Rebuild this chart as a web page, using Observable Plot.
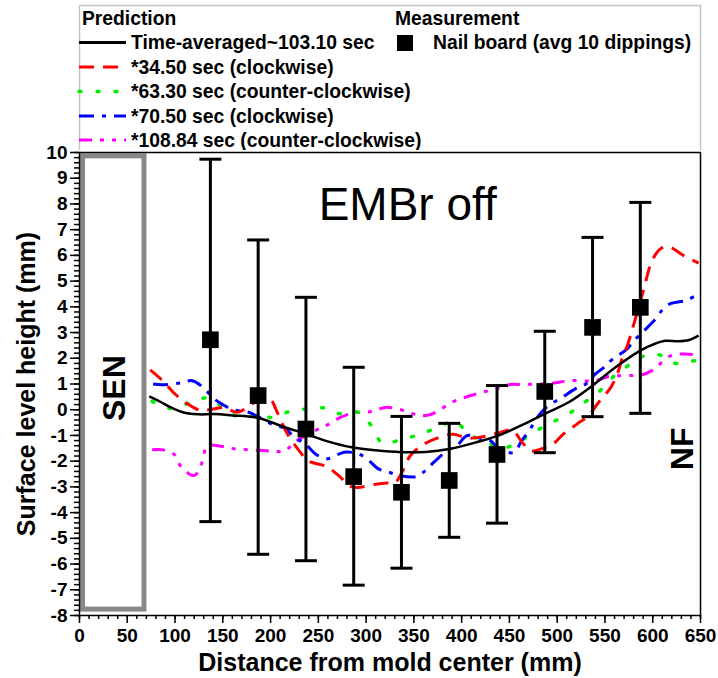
<!DOCTYPE html>
<html>
<head>
<meta charset="utf-8">
<script src="https://cdn.jsdelivr.net/npm/d3@7"></script>
<script src="https://cdn.jsdelivr.net/npm/@observablehq/plot@0.6"></script>
<style>
  html, body { margin: 0; padding: 0; background: white; }
  #chart { width: 718px; }
</style>
</head>
<body>
<div id="chart"></div>
<script>
// ---------- DATA ----------
const xTicks = [0, 50, 100, 150, 200, 250, 300, 350, 400, 450, 500, 550, 600, 650];
const yTicks = [-8, -7, -6, -5, -4, -3, -2, -1, 0, 1, 2, 3, 4, 5, 6, 7, 8, 9, 10];

// Measurement: nail board (avg 10 dippings)
const measX = [137, 187, 237, 287, 337, 387, 437, 487, 537, 587];
const measY = [2.72, 0.55, -0.75, -2.6, -3.21, -2.75, -1.74, 0.71, 3.2, 3.98];
const measTop = [9.74, 6.6, 4.37, 1.65, -0.26, -0.53, 0.94, 3.05, 6.7, 8.06];
const measBot = [-4.35, -5.62, -5.87, -6.82, -6.16, -4.96, -4.41, -1.67, -0.27, -0.14];

// Prediction: time-averaged
const avgX = [73, 85, 95, 110, 125, 140, 160, 187, 215, 237, 257, 285, 310, 337, 362, 387, 415, 439, 463, 488, 512, 537, 561, 587, 600, 613, 627, 638, 648];
const avgY = [0.52, 0.3, 0.1, -0.12, -0.18, -0.17, -0.22, -0.32, -0.68, -0.94, -1.2, -1.46, -1.58, -1.65, -1.64, -1.53, -1.27, -1.0, -0.6, -0.14, 0.29, 0.94, 1.65, 2.3, 2.53, 2.68, 2.66, 2.71, 2.88];

// *34.50 sec (clockwise)
const redX = [74, 87, 100, 110, 127, 140, 152, 165, 180, 192, 200, 207, 217, 230, 240, 258, 271, 285, 296, 310, 322, 330, 338, 346, 360, 376, 391, 406, 422, 439, 453, 463, 472, 481, 496, 507, 521, 533, 543, 556, 563, 568, 574, 580, 590, 600, 610, 618, 632, 648];
const redY = [1.55, 1.13, 0.61, 0.3, -0.03, 0.03, 0.08, -0.1, 0.2, 0.5, 0.4, -0.1, -0.9, -1.6, -2.0, -2.2, -2.55, -3.0, -3.0, -2.9, -2.85, -2.85, -2.4, -1.8, -1.35, -1.08, -0.95, -1.1, -1.05, -0.9, -0.8, -1.25, -1.6, -1.55, -1.32, -0.93, -0.55, -0.23, 0.27, 0.86, 1.4, 2.0, 2.56, 3.3, 4.6, 5.85, 6.3, 6.32, 6.0, 5.7];

// *63.30 sec (counter-clockwise)
const greenX = [76, 95, 114, 134, 148, 167, 186, 203, 217, 236, 256, 273, 292, 306, 317, 336, 355, 373, 393, 407, 426, 442, 460, 476, 493, 512, 525, 542, 558, 572, 587, 606, 624, 643, 650];
const greenY = [0.33, 0.05, 0.25, 0.46, 0.16, -0.3, -0.23, -0.3, -0.1, 0.03, 0.07, -0.16, -0.1, -0.65, -1.3, -1.17, -0.97, -0.72, -0.45, -0.94, -1.25, -1.5, -1.25, -0.86, -0.52, -0.16, 0.2, 0.64, 1.26, 1.65, 2.04, 2.14, 1.8, 1.9, 1.95];

// *70.50 sec (clockwise)
const blueX = [77, 86, 106, 118, 130, 140, 150, 161, 177, 191, 205, 215, 223, 238, 247, 259, 277, 289, 299, 313, 324, 336, 353, 362, 371, 385, 395, 406, 421, 430, 438, 454, 463, 472, 482, 491, 505, 519, 530, 540, 549, 558, 573, 582, 591, 603, 610, 619, 636, 646];
const blueY = [1.0, 0.97, 1.04, 1.13, 0.85, 0.45, 0.2, 0.0, -0.1, -0.35, -0.62, -0.71, -1.0, -1.39, -1.72, -1.91, -1.65, -1.69, -1.85, -2.3, -2.43, -2.57, -2.6, -2.37, -2.04, -1.59, -1.4, -1.0, -1.13, -1.2, -1.47, -1.67, -1.2, -0.74, -0.16, 0.16, 0.48, 0.81, 1.0, 1.39, 1.65, 1.97, 2.36, 2.75, 3.07, 3.53, 3.88, 4.13, 4.26, 4.47];

// *108.84 sec (counter-clockwise)
const magX = [76, 88, 99, 106, 120, 127, 134, 148, 162, 179, 193, 205, 215, 220, 228, 247, 259, 273, 287, 300, 310, 320, 333, 345, 355, 366, 376, 390, 402, 415, 428, 441, 451, 463, 480, 495, 514, 540, 554, 578, 589, 599, 605, 619, 633, 648];
const magY = [-1.56, -1.56, -1.74, -2.2, -2.56, -2.17, -1.42, -1.42, -1.52, -1.56, -1.59, -1.62, -1.62, -1.45, -1.2, -0.81, -0.6, -0.3, -0.12, -0.1, -0.02, 0.09, 0.03, -0.1, -0.23, -0.2, -0.03, 0.29, 0.46, 0.61, 0.74, 0.87, 0.98, 0.98, 1.0, 1.03, 1.13, 1.13, 1.29, 1.33, 1.36, 1.52, 1.7, 2.1, 2.17, 2.12];

const seriesNames = ["Time-averaged~103.10 sec", "*34.50 sec (clockwise)", "*63.30 sec (counter-clockwise)", "*70.50 sec (clockwise)", "*108.84 sec (counter-clockwise)"];
const seriesColors = ["#000000", "#ff0000", "#00ee00", "#0000ff", "#ff00ff"];
const seriesDash = [null, "15,9", "2,16", "15,8,4,8", "13,8,4,8,4,8"];
const seriesCap = ["butt", "butt", "round", "butt", "butt"];
const seriesWidth = [2.5, 3, 3.5, 3, 3];
const measName = "Nail board (avg 10 dippings)";

// annotations
const senBox = [{x1: 3.7, x2: 68, y1: -7.77, y2: 9.85}];
const annotations = [
  {x: 36.6, y: 0.84, text: "SEN"},
  {x: 631.5, y: -1.52, text: "NF"}
];
const titleNote = [{x: 343.5, y: 7.93, text: "EMBr off"}];

// ---------- BUILD ----------
const font = "'Liberation Sans', Arial, Helvetica, sans-serif";
const chart = document.getElementById("chart");

// Legend (above the plot)
const lg = d3.create("svg").attr("width", 718).attr("height", 150)
  .style("display", "block").style("font-family", font).style("font-weight", "bold").style("font-size", "19.3px");
lg.append("rect").attr("x", 79.5).attr("y", 5.5).attr("width", 621).attr("height", 160)
  .attr("fill", "none").attr("stroke", "#c4c4c4").attr("stroke-width", 1.5);
lg.append("text").attr("x", 82).attr("y", 25).text("Prediction");
lg.append("text").attr("x", 395).attr("y", 25).text("Measurement");
const baselines = [49, 73.5, 98, 122.5, 146.5];
seriesNames.forEach((name, i) => {
  const yb = baselines[i];
  lg.append("line").attr("x1", 79).attr("x2", 126).attr("y1", yb - 6.5).attr("y2", yb - 6.5)
    .attr("stroke", seriesColors[i]).attr("stroke-width", i === 0 ? 3 : seriesWidth[i])
    .attr("stroke-dasharray", seriesDash[i]).attr("stroke-linecap", seriesCap[i]);
  lg.append("text").attr("x", 131).attr("y", yb).text(name);
});
lg.append("rect").attr("x", 397).attr("y", 35).attr("width", 16).attr("height", 16).attr("fill", "black");
lg.append("text").attr("x", 433).attr("y", 49).text(measName);
chart.appendChild(lg.node());

// Table rows
const meas = measX.map((x, i) => ({x, y: measY[i], top: measTop[i], bot: measBot[i]}));
const lineData = (xs, ys) => xs.map((x, i) => ({x, y: ys[i]}));
const lines = [lineData(avgX, avgY), lineData(redX, redY), lineData(greenX, greenY), lineData(blueX, blueY), lineData(magX, magY)];

const seriesMarks = lines.map((d, i) => Plot.line(d, {
  x: "x", y: "y", curve: "catmull-rom",
  stroke: seriesColors[i], strokeWidth: seriesWidth[i],
  strokeDasharray: seriesDash[i], strokeLinecap: seriesCap[i]
}));
const ordered = [seriesMarks[4], seriesMarks[2], seriesMarks[3], seriesMarks[1], seriesMarks[0]];

const plot = Plot.plot({
  width: 718,
  height: 528,
  marginLeft: 79,
  marginRight: 18,
  marginTop: 2,
  marginBottom: 63,
  x: {domain: [0, 650]},
  y: {domain: [-8, 10]},
  style: {fontFamily: font, fontWeight: "bold", fontSize: "19px", color: "black", overflow: "visible", background: "transparent"},
  marks: [
    Plot.rect(senBox, {x1: "x1", x2: "x2", y1: "y1", y2: "y2", fill: "none", stroke: "#888888", strokeWidth: 5}),
    Plot.axisX(d3.range(0, 66).map(i => i * 10), {tickSize: 4, tickFormat: () => "", strokeWidth: 1.5, label: null}),
    Plot.axisX(xTicks, {tickSize: 8, tickPadding: 5, tickFormat: d => String(d), fontSize: 19, strokeWidth: 1.5, label: null}),
    Plot.axisY(d3.range(-40, 51).map(i => i / 5), {tickSize: 5, tickFormat: () => "", strokeWidth: 1.5, label: null}),
    Plot.axisY(yTicks, {tickSize: 9, tickPadding: 3, tickFormat: d => String(d), fontSize: 19, strokeWidth: 1.5, label: null}),
    ...ordered,
    Plot.ruleX(meas, {x: "x", y1: "bot", y2: "top", stroke: "black", strokeWidth: 3}),
    Plot.link(meas, {x1: d => d.x - 11.5, x2: d => d.x + 11.5, y1: "top", y2: "top", stroke: "black", strokeWidth: 3}),
    Plot.link(meas, {x1: d => d.x - 11.5, x2: d => d.x + 11.5, y1: "bot", y2: "bot", stroke: "black", strokeWidth: 3}),
    Plot.dot(meas, {x: "x", y: "y", symbol: "square", r: 9.4, fill: "black"}),
    Plot.text(annotations, {x: "x", y: "y", text: "text", rotate: -90, fontSize: 32, fontWeight: "bold", fill: "black"}),
    Plot.text(titleNote, {x: "x", y: "y", text: "text", fontSize: 46, fontWeight: "normal", fill: "black"}),
    Plot.text(["Surface level height (mm)"], {frameAnchor: "left", dx: -53, rotate: -90, textAnchor: "middle", lineAnchor: "middle", fontSize: 25, fontWeight: "bold", fill: "black"}),
    Plot.text(["Distance from mold center (mm)"], {frameAnchor: "bottom", dy: 47, textAnchor: "middle", lineAnchor: "middle", fontSize: 25, fontWeight: "bold", fill: "black"}),
    Plot.frame({stroke: "black", strokeWidth: 1.5})
  ]
});
chart.appendChild(plot);
</script>
</body>
</html>
